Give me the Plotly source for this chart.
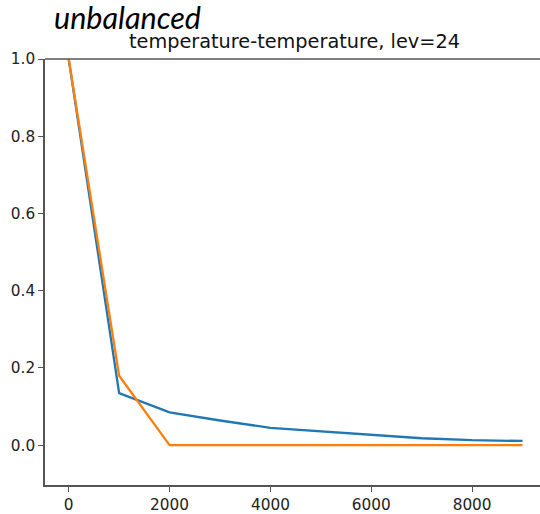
import plotly.graph_objects as go

lags = [0, 1000, 2000, 3000, 4000, 5000, 6000, 7000, 8000, 9000]
blue_vals = [1.0, 0.135, 0.085, 0.064, 0.045, 0.036, 0.027, 0.018, 0.013, 0.011]
orange_vals = [1.0, 0.18, 0.0, 0.0, 0.0, 0.0, 0.0, 0.0, 0.0, 0.0]
x_ticks = [0, 2000, 4000, 6000, 8000]
y_ticks = [0.0, 0.2, 0.4, 0.6, 0.8, 1.0]
title_text = "temperature-temperature, lev=24"
label_text = "unbalanced"

fig = go.Figure()
fig.add_trace(go.Scatter(x=lags, y=blue_vals, mode="lines",
                         line=dict(color="#1f77b4", width=2.3), showlegend=False))
fig.add_trace(go.Scatter(x=lags, y=orange_vals, mode="lines",
                         line=dict(color="#ff7f0e", width=2.3), showlegend=False))

W, H = 540, 514
L, T, B = 45, 59, 27
pw = W - L
ph = H - T - B

def px(x):
    return (x - L) / pw

def py(y):
    return (H - B - y) / ph

tickfont = dict(family="DejaVu Sans", size=15.3, color="#222222")
fig.update_layout(
    width=W, height=H,
    margin=dict(l=L, r=0, t=T, b=B),
    paper_bgcolor="white", plot_bgcolor="white",
    xaxis=dict(range=[-470, 9346], tickvals=x_ticks, ticktext=[str(v) for v in x_ticks],
               showgrid=False, zeroline=False, showline=True, linecolor="#555555", linewidth=1.5,
               ticks="outside", ticklen=5, tickcolor="#555555", tickwidth=1.2,
               tickfont=tickfont),
    yaxis=dict(range=[-0.103, 1.0], tickvals=y_ticks, ticktext=["%.1f" % v for v in y_ticks],
               showgrid=False, zeroline=False, showline=True, linecolor="#555555", linewidth=1.5,
               ticks="outside", ticklen=5, tickcolor="#555555", tickwidth=1.2,
               tickfont=tickfont),
    shapes=[dict(type="line", xref="paper", yref="paper", x0=0, x1=1, y0=1, y1=1,
                 line=dict(color="#555555", width=1.5))],
    annotations=[
        dict(text=title_text, xref="paper", yref="paper", x=px(294.5), y=py(41),
             xanchor="center", yanchor="middle", showarrow=False,
             font=dict(family="DejaVu Sans", size=19.3, color="#111111")),
        dict(text="<i>" + label_text + "</i>", xref="paper", yref="paper", x=px(127), y=py(17),
             xanchor="center", yanchor="middle", showarrow=False,
             font=dict(family="Lato", size=30.5, color="#000000")),
    ],
)

fig.write_html("out.html")
